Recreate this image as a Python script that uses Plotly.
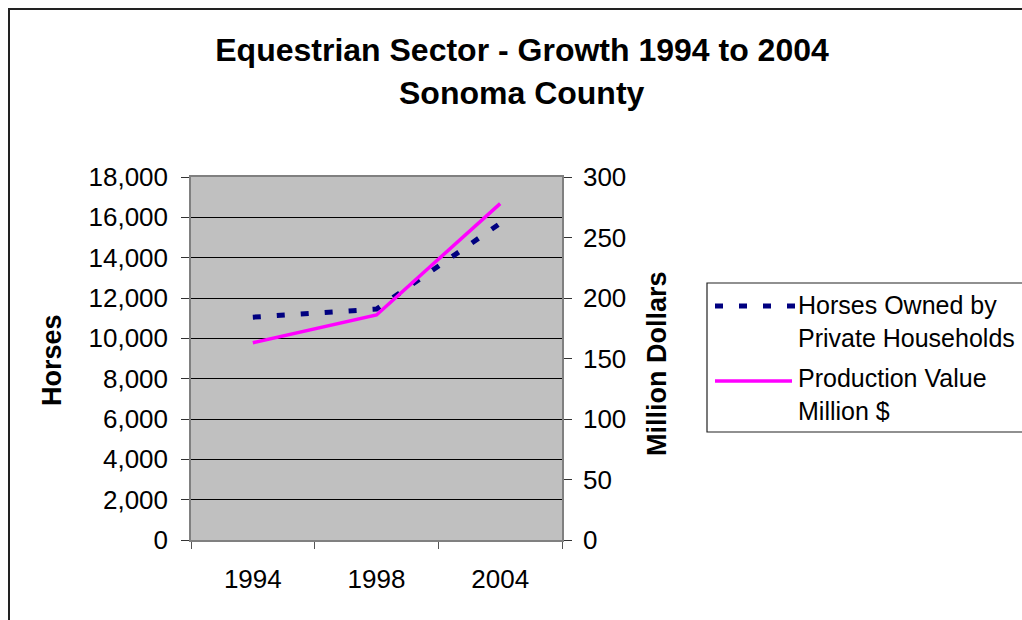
import plotly.graph_objects as go

# ---- data ----
years = ["1994", "1998", "2004"]
horses = [11050, 11450, 15700]          # Horses Owned by Private Households
production = [163, 186, 278]             # Production Value, Million $

left_ticks = list(range(0, 18001, 2000))
right_ticks = list(range(0, 301, 50))

FONT = "Arial, Liberation Sans, sans-serif"
W, H = 1022, 620
# plot area in screen pixels: x 191..562, y 177..540
SX0, SX1, SY0, SY1 = 191, 562, 177, 540
L = SX0
R = W - SX1
T = SY0
B = H - SY1
PW = SX1 - SX0
PH = SY1 - SY0


def px(x):
    return (x - SX0) / PW


def py(y):
    return (SY1 - y) / PH


fig = go.Figure()
fig.add_trace(go.Scatter(
    x=years, y=horses, mode="lines", name="Horses Owned by Private Households",
    line=dict(color="#000080", width=5, dash="8px,16px"), showlegend=False,
))
fig.add_trace(go.Scatter(
    x=years, y=production, mode="lines", name="Production Value Million $",
    yaxis="y2", line=dict(color="#FF00FF", width=3.5), showlegend=False,
))

fig.update_layout(
    width=W, height=H,
    margin=dict(l=L, r=R, t=T, b=B),
    paper_bgcolor="white",
    plot_bgcolor="#C0C0C0",
    font=dict(family=FONT, color="black", size=26),
    title=dict(
        text="<b>Equestrian Sector - Growth 1994 to 2004</b>",
        x=522 / W, xref="container", xanchor="center",
        y=1 - 50 / H, yref="container", yanchor="middle",
        font=dict(family=FONT, size=32, color="black"),
    ),
    xaxis=dict(
        type="category", categoryorder="array", categoryarray=years,
        range=[-0.5, 2.5], tickson="boundaries", ticks="outside", ticklen=7,
        tickcolor="#555555", showgrid=False, showline=True, linecolor="#808080",
        linewidth=1.5, mirror=True, ticklabelstandoff=15,
        tickfont=dict(size=26, family=FONT, color="black"), zeroline=False,
    ),
    yaxis=dict(
        range=[0, 18000], tickvals=left_ticks, tickformat=",",
        ticks="outside", ticklen=8, tickcolor="#333333",
        showgrid=True, gridcolor="black", gridwidth=1,
        showline=True, linecolor="#808080", linewidth=1.5,
        zeroline=False, ticklabelstandoff=8,
        tickfont=dict(size=26, family=FONT, color="black"),
    ),
    yaxis2=dict(
        range=[0, 300], tickvals=right_ticks, overlaying="y", side="right",
        ticks="outside", ticklen=8, tickcolor="#333333",
        showgrid=False, showline=True, linecolor="#808080", linewidth=1.5,
        zeroline=False, ticklabelstandoff=6,
        tickfont=dict(size=26, family=FONT, color="black"),
    ),
)

# second title line
fig.add_annotation(text="<b>Sonoma County</b>", xref="paper", yref="paper",
                   x=px(522), y=py(93), showarrow=False,
                   xanchor="center", yanchor="middle",
                   font=dict(family=FONT, size=32, color="black"))

# axis titles
fig.add_annotation(text="<b>Horses</b>", xref="paper", yref="paper",
                   x=px(52), y=py(360), textangle=-90, showarrow=False,
                   xanchor="center", yanchor="middle",
                   font=dict(family=FONT, size=27, color="black"))
fig.add_annotation(text="<b>Million Dollars</b>", xref="paper", yref="paper",
                   x=px(657), y=py(364), textangle=-90, showarrow=False,
                   xanchor="center", yanchor="middle",
                   font=dict(family=FONT, size=27, color="black"))

# outer chart frame
fig.add_shape(type="rect", xref="paper", yref="paper",
              x0=px(9), x1=px(1040), y0=py(640), y1=py(9),
              line=dict(color="#222222", width=2), layer="below")

# legend box
fig.add_shape(type="rect", xref="paper", yref="paper",
              x0=px(707), x1=px(1040), y0=py(432), y1=py(283),
              line=dict(color="#222222", width=1.2), fillcolor="white")
fig.add_shape(type="line", xref="paper", yref="paper",
              x0=px(715), x1=px(795), y0=py(306), y1=py(306),
              line=dict(color="#000080", width=5, dash="8px,16px"))
fig.add_shape(type="line", xref="paper", yref="paper",
              x0=px(715), x1=px(792), y0=py(381), y1=py(381),
              line=dict(color="#FF00FF", width=3.5))
fig.add_annotation(text="Horses Owned by<br>Private Households", xref="paper", yref="paper",
                   x=px(796), y=py(321), showarrow=False, align="left",
                   xanchor="left", yanchor="middle",
                   font=dict(family=FONT, size=25, color="black"))
fig.add_annotation(text="Production Value<br>Million $", xref="paper", yref="paper",
                   x=px(796), y=py(394), showarrow=False, align="left",
                   xanchor="left", yanchor="middle",
                   font=dict(family=FONT, size=25, color="black"))

fig.write_html(
    "out.html",
    config={"displayModeBar": False},
    post_script="document.body.style.margin='0';document.body.style.overflow='hidden';",
)
